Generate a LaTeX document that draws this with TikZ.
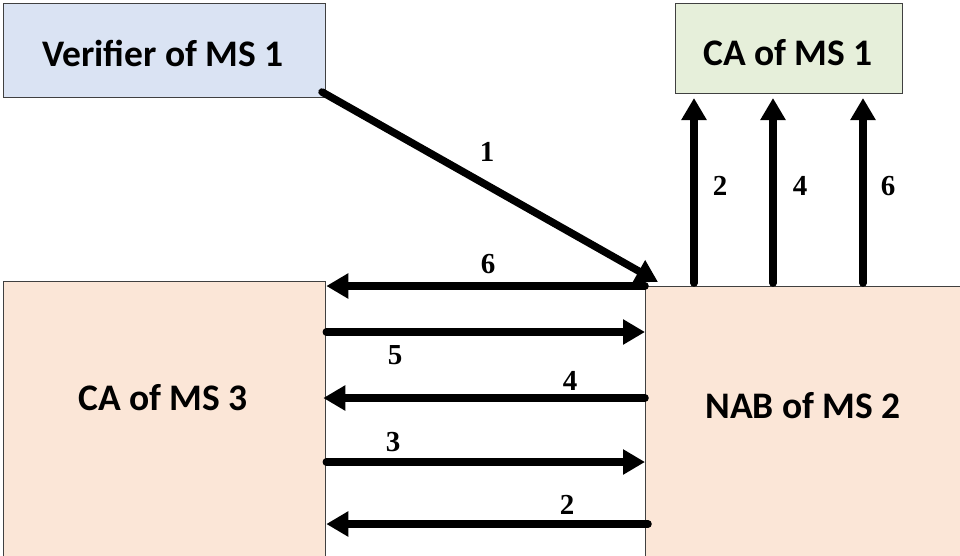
\documentclass[tikz,border=0pt]{standalone}
\usepackage{fontspec}
\setmainfont{Carlito}
\newfontfamily\numfont{Liberation Serif}
\usetikzlibrary{arrows.meta}
\definecolor{vblue}{HTML}{DAE3F3}
\definecolor{cgreen}{HTML}{E6EFDA}
\definecolor{peach}{HTML}{FBE6D7}
\definecolor{edge}{HTML}{404040}
\tikzset{
  box/.style={draw=edge, line width=1.3pt, inner sep=0pt, anchor=north west},
  boxtext/.style={font=\fontsize{37.5}{42}\selectfont\bfseries, inner sep=0pt},
  numlbl/.style={font=\numfont\fontsize{29}{32}\selectfont\bfseries, inner sep=0pt},
  flow/.style={line width=7.5pt, line cap=round, -{Triangle[length=22pt,width=24pt]}},
}
\begin{document}
\begin{tikzpicture}[x=1pt,y=-1pt]
\useasboundingbox (0,0) rectangle (960,555);
\clip (0,0) rectangle (960,555);
\node[box, fill=vblue, minimum width=322pt, minimum height=94pt] (ver) at (3,3) {};
\node[boxtext] (vert) at (163,53) {Verifier of MS 1};
\node[box, fill=cgreen, minimum width=227pt, minimum height=90pt] (ca1) at (675,3) {};
\node[boxtext] (ca1t) at (788,53) {CA of MS 1};
\node[box, fill=peach, minimum width=322pt, minimum height=300pt] (ca3) at (3,281) {};
\node[boxtext] (ca3t) at (163,398) {CA of MS 3};
\node[box, fill=peach, minimum width=330pt, minimum height=300pt] (nab) at (645,286) {};
\node[boxtext] (nabt) at (803,406) {NAB of MS 2};
% arrow 1
\coordinate (s1) at (322,92);
\coordinate (e1) at (658,282);
\draw[flow] (s1) -- (e1);
\node[numlbl] (l1) at (487,152) {1};
% vertical arrows
\foreach \x/\n/\lx in {694/2/720, 773/4/800, 863/6/888}{
  \draw[flow] (\x,283) -- (\x,98);
  \node[numlbl] at (\lx,186) {\n};
}
% horizontal arrows
\draw[flow] (nab.west |- 0,286) -- (ca3.east |- 0,286);
\node[numlbl] at (488,264) {6};
\draw[flow] (ca3.east |- 0,332) -- (nab.west |- 0,332);
\node[numlbl] at (395,355) {5};
\draw[flow] (nab.west |- 0,398) -- ([xshift=-3pt]ca3.east |- 0,398);
\node[numlbl] at (570,381) {4};
\draw[flow] (ca3.east |- 0,462) -- (nab.west |- 0,462);
\node[numlbl] at (393,442) {3};
\draw[flow] ([xshift=3pt]nab.west |- 0,524) -- (ca3.east |- 0,524);
\node[numlbl] at (567,505) {2};
\end{tikzpicture}
\end{document}
